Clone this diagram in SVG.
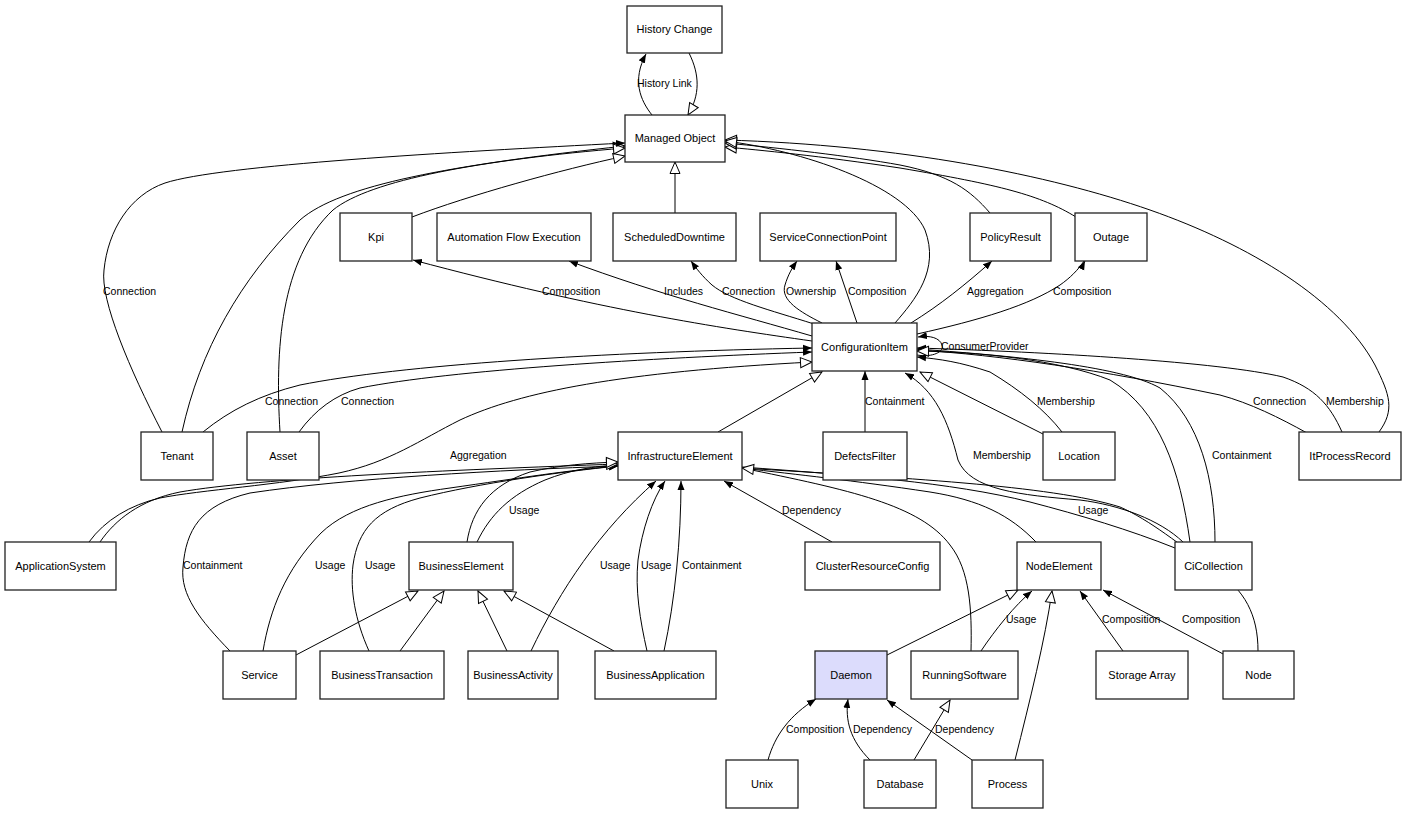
<svg xmlns="http://www.w3.org/2000/svg" width="1407" height="815" viewBox="0 0 1407 815">
<style>
.n rect{fill:#fff;stroke:#222;stroke-width:1.3}
.n text{font-family:"Liberation Sans",Arial,sans-serif;font-size:11px;text-anchor:middle;fill:#000}
#edges path{fill:none;stroke:#000;stroke-width:1}
.f{marker-end:url(#fa)}
.h{marker-end:url(#ha)}
.lbl text{font-family:"Liberation Sans",Arial,sans-serif;font-size:10.5px;fill:#000}
</style>
<defs>
<marker id="fa" markerWidth="10" markerHeight="8" refX="9" refY="4" orient="auto" markerUnits="userSpaceOnUse"><path d="M0,0.5 L9,4 L0,7.5 z" fill="#000"/></marker>
<marker id="ha" markerWidth="14" markerHeight="12" refX="12.5" refY="6" orient="auto" markerUnits="userSpaceOnUse"><path d="M1,1 L12.5,6 L1,11 z" fill="#fff" stroke="#000" stroke-width="1"/></marker>
</defs>
<rect width="1407" height="815" fill="#fff"/>
<g id="edges">
<path class="f" d="M652,115 C640,100 632,80 646,54"/>
<path class="h" d="M689,53 C700,75 700,95 688,115"/>
<path class="h" d="M675,213 L675,162"/>
<path class="h" d="M412,217 C470,195 560,170 625,156"/>
<path class="h" d="M182,432 C200,350 240,280 300,220 C340,185 450,165 625,146"/>
<path class="h" d="M280,432 C275,350 280,260 333,210 C370,180 480,160 625,148"/>
<path class="f" d="M162,432 C130,370 100,300 104,270 C108,230 130,195 165,183 C220,165 450,152 625,143"/>
<path class="h" d="M1076,217 C1040,195 1000,185 900,168 C820,156 760,150 725,147"/>
<path class="h" d="M990,213 C970,190 950,175 900,165 C850,156 780,148 725,143"/>
<path class="h" d="M1379,432 C1395,410 1390,395 1375,365 C1340,300 1250,245 1150,210 C1050,175 900,145 725,140"/>
<path class="h" d="M895,323 C915,300 940,270 925,230 C905,185 800,150 725,141"/>
<path class="f" d="M812,341 C720,328 600,310 413,260"/>
<path class="f" d="M812,336 C740,315 660,295 569,261"/>
<path class="f" d="M814,324 C770,310 730,300 712,285 C702,276 696,268 691,261"/>
<path class="f" d="M822,323 C800,312 780,300 785,285 C788,275 792,268 797,261"/>
<path class="f" d="M857,323 L836,261"/>
<path class="f" d="M911,323 C940,305 965,285 992,261"/>
<path d="M917,334 C980,320 1030,305 1060,285 C1070,278 1078,270 1084,261"/>
<path class="f" d="M1084,263 L1085,261"/>
<path class="f" d="M917,355 C935,358 945,350 942,345 C940,338 930,335 918,337"/>
<path class="f" d="M203,432 C230,410 260,395 300,385 C400,365 600,352 812,348"/>
<path class="f" d="M299,432 C315,410 335,395 360,388 C450,370 650,358 812,352"/>
<path class="h" d="M89,542 C105,520 130,505 160,498 C200,490 280,485 339,473 C390,462 420,440 460,420 C520,392 620,372 812,362"/>
<path class="h" d="M718,432 L822,372"/>
<path class="f" d="M865,432 L865,371"/>
<path class="h" d="M1043,434 L920,372"/>
<path class="f" d="M1062,432 C1045,410 1020,390 990,372 C960,362 940,359 917,357"/>
<path class="f" d="M1183,542 C1160,520 1120,505 1080,500 C1020,495 970,490 958,460 C948,420 935,390 905,373"/>
<path class="f" d="M1215,542 C1215,480 1200,420 1160,388 C1120,365 1000,355 917,349"/>
<path class="f" d="M1307,433 C1280,418 1250,403 1220,395 C1100,370 1000,355 917,350"/>
<path class="f" d="M1342,432 C1330,405 1315,388 1283,377 C1220,362 1050,352 917,348"/>
<path class="h" d="M1190,542 C1180,470 1160,410 1110,380 C1060,360 980,352 917,351"/>
<path class="f" d="M230,651 C200,620 180,595 183,567 C186,530 200,505 250,493 C350,478 500,470 618,466"/>
<path class="f" d="M263,651 C270,610 285,570 321,533 C350,505 400,495 450,488 C520,478 570,470 618,466"/>
<path class="f" d="M369,651 C355,620 350,590 353,565 C358,530 375,510 420,498 C480,483 560,472 618,466"/>
<path class="f" d="M477,542 C490,515 510,495 545,480 C570,470 595,466 618,465"/>
<path class="h" d="M100,542 C115,520 140,500 180,492 C260,478 450,470 618,464"/>
<path class="h" d="M467,542 C472,510 490,485 530,472 C560,465 590,463 618,462"/>
<path class="f" d="M531,651 C560,590 600,530 656,481"/>
<path class="f" d="M647,651 C640,620 635,590 638,560 C642,530 652,500 665,481"/>
<path class="f" d="M664,651 C675,600 681,540 681,481"/>
<path class="f" d="M832,542 L724,481"/>
<path d="M971,651 C972,610 970,570 950,545 C920,505 850,490 742,468"/>
<path d="M1175,548 C1130,530 1080,515 1030,502 C950,482 850,475 742,467"/>
<path d="M1258,651 C1258,615 1245,590 1215,570 C1180,545 1150,520 1120,507 C1050,485 900,478 742,468"/>
<path class="h" d="M1036,542 C1010,515 980,500 930,492 C850,480 800,475 742,468"/>
<path class="h" d="M887,655 L1018,590"/>
<path class="f" d="M981,651 C995,630 1015,605 1032,591"/>
<path class="h" d="M1015,760 C1030,700 1045,640 1052,591"/>
<path class="f" d="M1123,651 L1080,591"/>
<path class="f" d="M1225,655 L1103,590"/>
<path class="f" d="M768,760 C775,735 790,715 816,699"/>
<path class="f" d="M870,760 C850,740 845,720 848,699"/>
<path class="h" d="M914,760 L950,700"/>
<path class="f" d="M972,760 L887,700"/>
<path class="h" d="M296,655 L418,591"/>
<path class="h" d="M400,651 L444,591"/>
<path class="h" d="M507,651 L478,591"/>
<path class="h" d="M614,651 L504,591"/>
</g>
<g class="lbl">
<text x="637" y="87">History Link</text>
<text x="103" y="295">Connection</text>
<text x="542" y="295">Composition</text>
<text x="664" y="295">Includes</text>
<text x="722" y="295">Connection</text>
<text x="786" y="295">Ownership</text>
<text x="848" y="295">Composition</text>
<text x="967" y="295">Aggregation</text>
<text x="1053" y="295">Composition</text>
<text x="941" y="350">ConsumerProvider</text>
<text x="265" y="405">Connection</text>
<text x="341" y="405">Connection</text>
<text x="865" y="405">Containment</text>
<text x="1037" y="405">Membership</text>
<text x="1253" y="405">Connection</text>
<text x="1326" y="405">Membership</text>
<text x="450" y="459">Aggregation</text>
<text x="973" y="459">Membership</text>
<text x="1212" y="459">Containment</text>
<text x="509" y="514">Usage</text>
<text x="782" y="514">Dependency</text>
<text x="1078" y="514">Usage</text>
<text x="183" y="569">Containment</text>
<text x="315" y="569">Usage</text>
<text x="365" y="569">Usage</text>
<text x="600" y="569">Usage</text>
<text x="641" y="569">Usage</text>
<text x="682" y="569">Containment</text>
<text x="1006" y="623">Usage</text>
<text x="1102" y="623">Composition</text>
<text x="1182" y="623">Composition</text>
<text x="786" y="733">Composition</text>
<text x="853" y="733">Dependency</text>
<text x="935" y="733">Dependency</text>
</g>
<g id="n-historychange" class="n"><rect x="627" y="6" width="95" height="47"/><text x="674.5" y="33">History Change</text></g>
<g id="n-managedobject" class="n"><rect x="625" y="115" width="100" height="47"/><text x="675" y="142">Managed Object</text></g>
<g id="n-kpi" class="n"><rect x="340" y="213" width="72" height="48"/><text x="376" y="241">Kpi</text></g>
<g id="n-afe" class="n"><rect x="437" y="213" width="154" height="48"/><text x="514" y="241">Automation Flow Execution</text></g>
<g id="n-scheduleddowntime" class="n"><rect x="613" y="213" width="123" height="48"/><text x="674.5" y="241">ScheduledDowntime</text></g>
<g id="n-scp" class="n"><rect x="760" y="213" width="136" height="48"/><text x="828" y="241">ServiceConnectionPoint</text></g>
<g id="n-policyresult" class="n"><rect x="970" y="213" width="81" height="48"/><text x="1010.5" y="241">PolicyResult</text></g>
<g id="n-outage" class="n"><rect x="1075" y="213" width="72" height="48"/><text x="1111" y="241">Outage</text></g>
<g id="n-ci" class="n"><rect x="812" y="323" width="105" height="48"/><text x="864.5" y="351">ConfigurationItem</text></g>
<g id="n-tenant" class="n"><rect x="141" y="432" width="72" height="48"/><text x="177" y="460">Tenant</text></g>
<g id="n-asset" class="n"><rect x="247" y="432" width="72" height="48"/><text x="283" y="460">Asset</text></g>
<g id="n-ie" class="n"><rect x="618" y="432" width="124" height="48"/><text x="680" y="460">InfrastructureElement</text></g>
<g id="n-defectsfilter" class="n"><rect x="823" y="432" width="84" height="48"/><text x="865" y="460">DefectsFilter</text></g>
<g id="n-location" class="n"><rect x="1043" y="432" width="72" height="48"/><text x="1079" y="460">Location</text></g>
<g id="n-itprocessrecord" class="n"><rect x="1299" y="432" width="102" height="48"/><text x="1350" y="460">ItProcessRecord</text></g>
<g id="n-applicationsystem" class="n"><rect x="5" y="542" width="111" height="48"/><text x="60.5" y="570">ApplicationSystem</text></g>
<g id="n-businesselement" class="n"><rect x="409" y="542" width="104" height="48"/><text x="461" y="570">BusinessElement</text></g>
<g id="n-crc" class="n"><rect x="805" y="542" width="135" height="48"/><text x="872.5" y="570">ClusterResourceConfig</text></g>
<g id="n-nodeelement" class="n"><rect x="1017" y="542" width="84" height="48"/><text x="1059" y="570">NodeElement</text></g>
<g id="n-cicollection" class="n"><rect x="1175" y="542" width="77" height="48"/><text x="1213.5" y="570">CiCollection</text></g>
<g id="n-service" class="n"><rect x="223" y="651" width="73" height="48"/><text x="259.5" y="679">Service</text></g>
<g id="n-bt" class="n"><rect x="320" y="651" width="124" height="48"/><text x="382" y="679">BusinessTransaction</text></g>
<g id="n-ba" class="n"><rect x="468" y="651" width="90" height="48"/><text x="513" y="679">BusinessActivity</text></g>
<g id="n-bapp" class="n"><rect x="595" y="651" width="121" height="48"/><text x="655.5" y="679">BusinessApplication</text></g>
<g id="n-daemon" class="n"><rect x="815" y="651" width="72" height="48" style="fill:#dcdcfc"/><text x="851" y="679">Daemon</text></g>
<g id="n-runningsoftware" class="n"><rect x="911" y="651" width="107" height="48"/><text x="964.5" y="679">RunningSoftware</text></g>
<g id="n-storagearray" class="n"><rect x="1096" y="651" width="92" height="48"/><text x="1142" y="679">Storage Array</text></g>
<g id="n-node" class="n"><rect x="1223" y="651" width="71" height="48"/><text x="1258.5" y="679">Node</text></g>
<g id="n-unix" class="n"><rect x="726" y="760" width="72" height="48"/><text x="762" y="788">Unix</text></g>
<g id="n-database" class="n"><rect x="864" y="760" width="72" height="48"/><text x="900" y="788">Database</text></g>
<g id="n-process" class="n"><rect x="972" y="760" width="71" height="48"/><text x="1007.5" y="788">Process</text></g>
</svg>
